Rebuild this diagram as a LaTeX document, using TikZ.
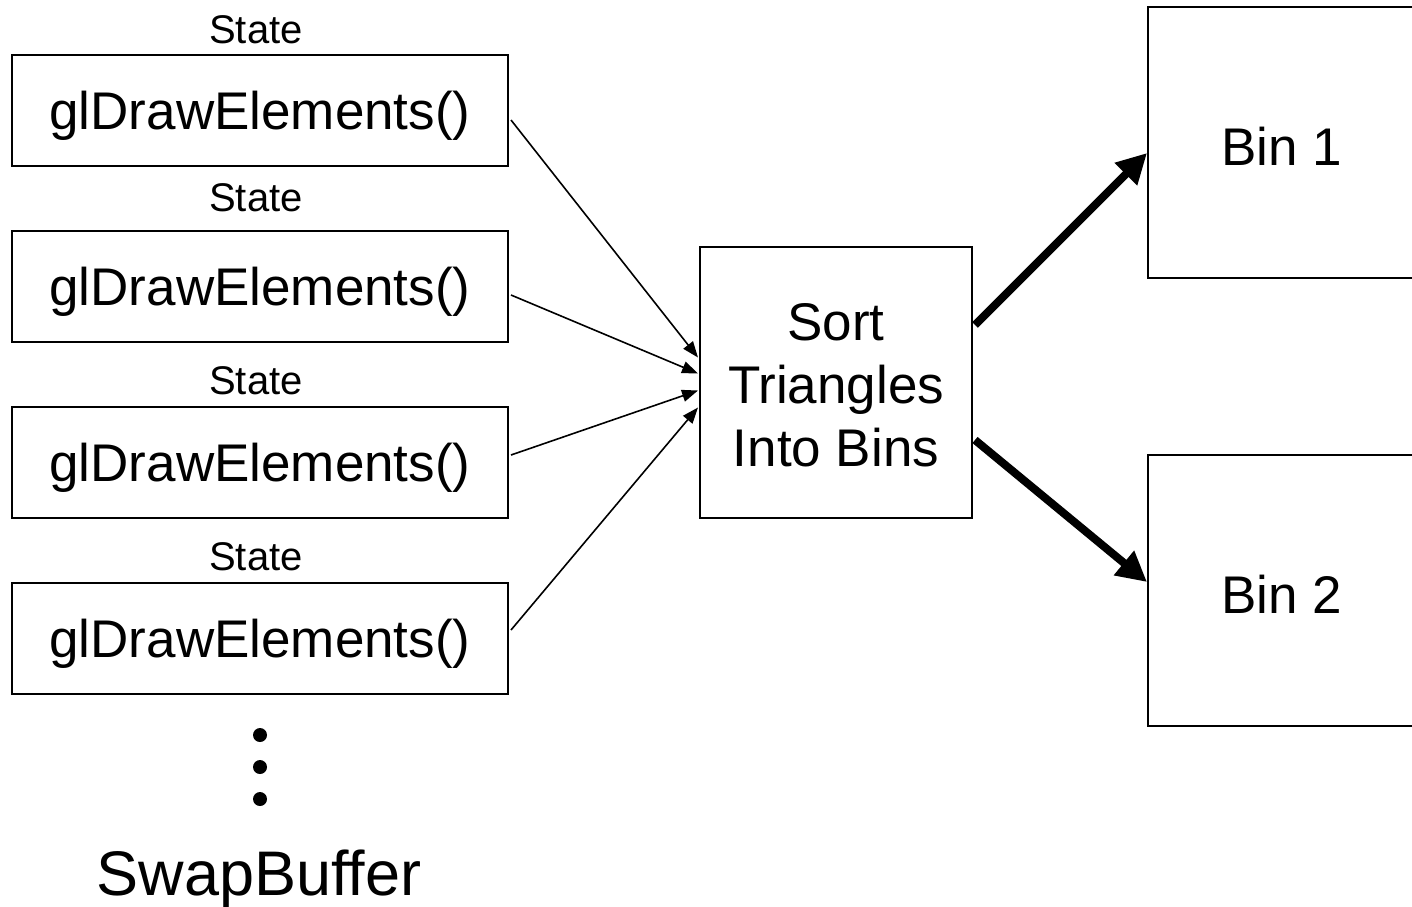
\documentclass[tikz,border=0pt]{standalone}
\usepackage{fontspec}
\setmainfont{Liberation Sans}
\usetikzlibrary{calc,arrows.meta}
\begin{document}
\begin{tikzpicture}[x=1pt,y=-1pt,
  callbox/.style={draw,line width=2pt,minimum width=496pt,minimum height=111pt,inner sep=0pt,
    text height=48pt,text depth=11pt,font=\fontsize{53}{63}\selectfont},
  statelabel/.style={inner sep=0pt,font=\fontsize{40}{48}\selectfont},
  sortbox/.style={draw,line width=2pt,minimum width=272pt,minimum height=271pt,inner sep=0pt,
    align=center,font=\fontsize{53}{63}\selectfont},
  binbox/.style={draw,line width=2pt,minimum width=268pt,minimum height=271pt,inner sep=0pt,
    text height=46pt,text depth=0pt,font=\fontsize{53}{63}\selectfont},
  feed/.style={line width=1.6pt,-{Triangle[length=16pt,width=12pt]}},
  route/.style={line width=8pt,-{Triangle[length=30pt,width=30pt]}},
  dot/.style={circle,fill,minimum size=14pt,inner sep=0pt}]
\useasboundingbox (0,0) rectangle (1412,906);
\clip (0,0) rectangle (1412,906);

% draw calls, each with its state label
\node[callbox] (g1) at (260,110.5) {glDrawElements()};
\node[callbox] (g2) at (260,286.5) {glDrawElements()};
\node[callbox] (g3) at (260,462.5) {glDrawElements()};
\node[callbox] (g4) at (260,638.5) {glDrawElements()};
\node[statelabel] (s1) at (256,30) {State};
\node[statelabel] (s2) at (256,198) {State};
\node[statelabel] (s3) at (256,381) {State};
\node[statelabel] (s4) at (256,557) {State};

% continuation dots and end of frame
\node[dot] (d1) at (260,735) {};
\node[dot] (d2) at (260,767) {};
\node[dot] (d3) at (260,799) {};
\node[inner sep=0pt,font=\fontsize{63}{70}\selectfont] (swap) at (259,879) {SwapBuffer};

% binning stage
\node[sortbox] (sort) at (836,382.5) {};
\node[align=center,inner sep=0pt,font=\fontsize{53}{63}\selectfont] (sorttext) at (836,385) {Sort\\Triangles\\Into Bins};
\node[binbox] (bin1) at (1282,142.5) {Bin 1};
\node[binbox] (bin2) at (1282,590.5) {Bin 2};

% connectors
\draw[feed] ($(g1.east)+(2,9.5)$) -- ($(sort.west)+(-1,-25)$);
\draw[feed] ($(g2.east)+(2,8.5)$) -- ($(sort.west)+(-1,-9)$);
\draw[feed] ($(g3.east)+(2,-7.5)$) -- ($(sort.west)+(-1,8)$);
\draw[feed] ($(g4.east)+(2,-8.5)$) -- ($(sort.west)+(-1,25)$);
\draw[route] ($(sort.east)+(2,-57.5)$) -- ($(bin1.west)+(0,10.5)$);
\draw[route] ($(sort.east)+(2,57.5)$) -- ($(bin2.west)+(0,-8.5)$);
\end{tikzpicture}
\end{document}
